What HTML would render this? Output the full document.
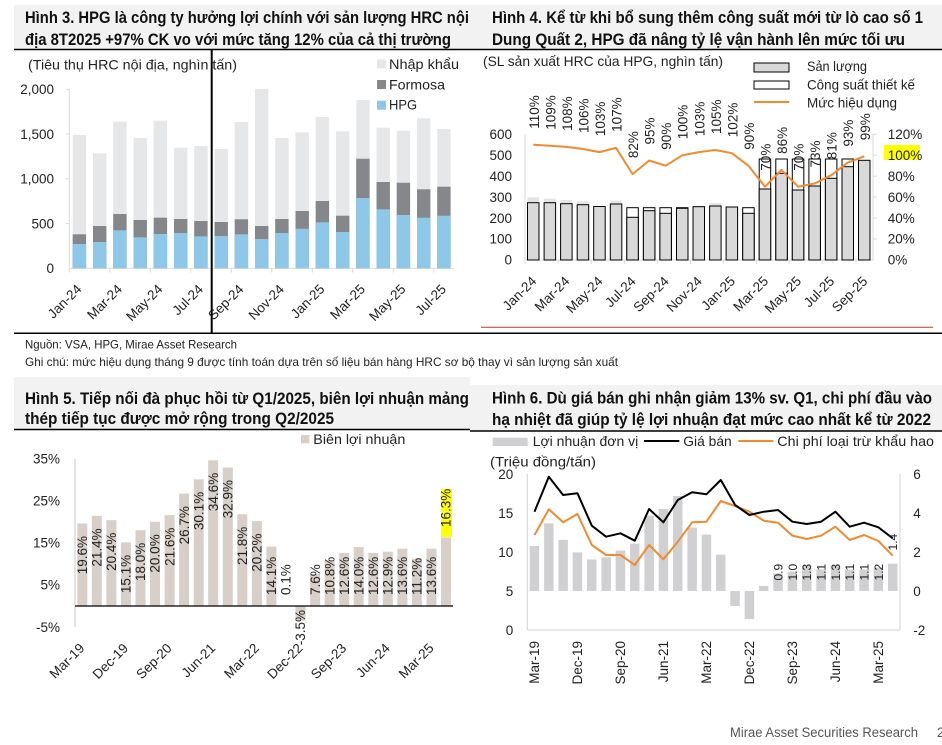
<!DOCTYPE html>
<html><head><meta charset="utf-8"><style>
html,body{margin:0;padding:0;background:#fff;}
svg{display:block;font-family:"Liberation Sans","DejaVu Sans",sans-serif;}
.t{font-weight:bold;font-size:16.5px;fill:#111;}
.a{font-size:13.5px;fill:#222;}
.l{font-size:14px;fill:#222;}
.s{font-size:12px;fill:#222;}
</style></head><body>
<svg width="942" height="745" viewBox="0 0 942 745" xmlns="http://www.w3.org/2000/svg">
<rect width="942" height="745" fill="#fff"/>
<rect x="14" y="5" width="456" height="44" fill="#f2f2f2"/>
<rect x="470" y="5" width="472" height="44" fill="#f2f2f2"/>
<rect x="14" y="377" width="456" height="52" fill="#f2f2f2"/>
<rect x="470" y="385" width="472" height="46" fill="#f2f2f2"/>
<line x1="14" y1="49.5" x2="942" y2="49.5" stroke="#000" stroke-width="1.5"/>
<line x1="14" y1="333.3" x2="942" y2="333.3" stroke="#000" stroke-width="1.5"/>
<line x1="481" y1="327.3" x2="933" y2="327.3" stroke="#c0392b" stroke-width="1"/>
<line x1="14" y1="429.5" x2="470" y2="429.5" stroke="#000" stroke-width="1.5"/>
<line x1="470" y1="431" x2="942" y2="431" stroke="#000" stroke-width="1.5"/>

<text class="t" x="25" y="23" textLength="444" lengthAdjust="spacingAndGlyphs">Hình 3. HPG là công ty hưởng lợi chính với sản lượng HRC nội</text>
<text class="t" x="25" y="45" textLength="426" lengthAdjust="spacingAndGlyphs">địa 8T2025 +97% CK vo với mức tăng 12% của cả thị trường</text>
<text class="t" x="492" y="23" textLength="431" lengthAdjust="spacingAndGlyphs">Hình 4. Kể từ khi bổ sung thêm công suất mới từ lò cao số 1</text>
<text class="t" x="492" y="45" textLength="413" lengthAdjust="spacingAndGlyphs">Dung Quất 2, HPG đã nâng tỷ lệ vận hành lên mức tối ưu</text>
<text class="t" x="25" y="404" textLength="444" lengthAdjust="spacingAndGlyphs">Hình 5. Tiếp nối đà phục hồi từ Q1/2025, biên lợi nhuận mảng</text>
<text class="t" x="25" y="424" textLength="309" lengthAdjust="spacingAndGlyphs">thép tiếp tục được mở rộng trong Q2/2025</text>
<text class="t" x="492" y="403.5" textLength="440" lengthAdjust="spacingAndGlyphs">Hình 6. Dù giá bán ghi nhận giảm 13% sv. Q1, chi phí đầu vào</text>
<text class="t" x="492" y="425" textLength="439" lengthAdjust="spacingAndGlyphs">hạ nhiệt đã giúp tỷ lệ lợi nhuận đạt mức cao nhất kể từ 2022</text>

<text class="s" x="25" y="348.3" textLength="212" lengthAdjust="spacingAndGlyphs">Nguồn: VSA, HPG, Mirae Asset Research</text>
<text class="s" x="25" y="366" textLength="593" lengthAdjust="spacingAndGlyphs">Ghi chú: mức hiệu dụng tháng 9 được tính toán dựa trên số liệu bán hàng HRC sơ bộ thay vì sản lượng sản xuất</text>
<text x="730" y="737" font-size="13.5" fill="#555" textLength="188" lengthAdjust="spacingAndGlyphs">Mirae Asset Securities Research</text>
<text x="937" y="737" font-size="13.5" fill="#555">2</text>

<!-- CHART 3 -->
<text class="l" x="28" y="69.5" textLength="209" lengthAdjust="spacingAndGlyphs">(Tiêu thụ HRC nội địa, nghìn tấn)</text>
<rect x="377" y="59.3" width="9" height="9" fill="#e6e7e9"/>
<rect x="377" y="80" width="9" height="9" fill="#85878a"/>
<rect x="377" y="100.7" width="9" height="9" fill="#8ec8e8"/>
<text class="l" x="389" y="69" textLength="70" lengthAdjust="spacingAndGlyphs">Nhập khẩu</text>
<text class="l" x="389" y="89.3" textLength="56" lengthAdjust="spacingAndGlyphs">Formosa</text>
<text class="l" x="389" y="109.7" textLength="28" lengthAdjust="spacingAndGlyphs">HPG</text>
<g class="a" text-anchor="end">
<text x="54" y="94">2,000</text><text x="54" y="138.8">1,500</text><text x="54" y="183.5">1,000</text><text x="54" y="228.3">500</text><text x="54" y="273">0</text>
</g>
<g stroke="#d9d9d9" stroke-width="1">
<line x1="69.3" y1="89" x2="69.3" y2="268.3"/>
<line x1="69.3" y1="268.3" x2="454" y2="268.3"/>
<line x1="66" y1="89.3" x2="69.3" y2="89.3"/><line x1="66" y1="134.1" x2="69.3" y2="134.1"/><line x1="66" y1="178.8" x2="69.3" y2="178.8"/><line x1="66" y1="223.6" x2="69.3" y2="223.6"/>
<line x1="69.3" y1="268.3" x2="69.3" y2="272.5"/><line x1="109.8" y1="268.3" x2="109.8" y2="272.5"/><line x1="150.3" y1="268.3" x2="150.3" y2="272.5"/><line x1="190.8" y1="268.3" x2="190.8" y2="272.5"/><line x1="231.3" y1="268.3" x2="231.3" y2="272.5"/><line x1="271.8" y1="268.3" x2="271.8" y2="272.5"/><line x1="312.3" y1="268.3" x2="312.3" y2="272.5"/><line x1="352.8" y1="268.3" x2="352.8" y2="272.5"/><line x1="393.3" y1="268.3" x2="393.3" y2="272.5"/><line x1="433.8" y1="268.3" x2="433.8" y2="272.5"/>
</g>
<g fill="#e6e7e9">
<rect x="72.7" y="135.0" width="13.4" height="133.3"/><rect x="93.0" y="153.3" width="13.4" height="115.0"/><rect x="113.2" y="121.7" width="13.4" height="146.6"/><rect x="133.5" y="138.0" width="13.4" height="130.3"/><rect x="153.7" y="120.7" width="13.4" height="147.6"/><rect x="174.0" y="147.7" width="13.4" height="120.6"/><rect x="194.2" y="146.0" width="13.4" height="122.3"/><rect x="214.5" y="149.0" width="13.4" height="119.3"/><rect x="234.7" y="122.0" width="13.4" height="146.3"/><rect x="255.0" y="89.0" width="13.4" height="179.3"/><rect x="275.2" y="138.0" width="13.4" height="130.3"/><rect x="295.5" y="132.3" width="13.4" height="136.0"/><rect x="315.7" y="117.0" width="13.4" height="151.3"/><rect x="336.0" y="131.3" width="13.4" height="137.0"/><rect x="356.2" y="100.0" width="13.4" height="168.3"/><rect x="376.5" y="127.7" width="13.4" height="140.6"/><rect x="396.7" y="130.7" width="13.4" height="137.6"/><rect x="417.0" y="118.3" width="13.4" height="150.0"/><rect x="437.2" y="129.0" width="13.4" height="139.3"/>
</g>
<g fill="#85878a">
<rect x="72.7" y="234.3" width="13.4" height="34.0"/><rect x="93.0" y="226.0" width="13.4" height="42.3"/><rect x="113.2" y="214.0" width="13.4" height="54.3"/><rect x="133.5" y="220.0" width="13.4" height="48.3"/><rect x="153.7" y="217.7" width="13.4" height="50.6"/><rect x="174.0" y="219.0" width="13.4" height="49.3"/><rect x="194.2" y="221.0" width="13.4" height="47.3"/><rect x="214.5" y="222.0" width="13.4" height="46.3"/><rect x="234.7" y="219.3" width="13.4" height="49.0"/><rect x="255.0" y="226.0" width="13.4" height="42.3"/><rect x="275.2" y="219.0" width="13.4" height="49.3"/><rect x="295.5" y="211.0" width="13.4" height="57.3"/><rect x="315.7" y="201.0" width="13.4" height="67.3"/><rect x="336.0" y="215.7" width="13.4" height="52.6"/><rect x="356.2" y="158.7" width="13.4" height="109.6"/><rect x="376.5" y="182.0" width="13.4" height="86.3"/><rect x="396.7" y="182.7" width="13.4" height="85.6"/><rect x="417.0" y="189.3" width="13.4" height="79.0"/><rect x="437.2" y="186.7" width="13.4" height="81.6"/>
</g>
<g fill="#8ec8e8">
<rect x="72.7" y="244.0" width="13.4" height="24.3"/><rect x="93.0" y="242.0" width="13.4" height="26.3"/><rect x="113.2" y="230.3" width="13.4" height="38.0"/><rect x="133.5" y="237.3" width="13.4" height="31.0"/><rect x="153.7" y="234.0" width="13.4" height="34.3"/><rect x="174.0" y="233.0" width="13.4" height="35.3"/><rect x="194.2" y="236.3" width="13.4" height="32.0"/><rect x="214.5" y="236.0" width="13.4" height="32.3"/><rect x="234.7" y="234.3" width="13.4" height="34.0"/><rect x="255.0" y="239.0" width="13.4" height="29.3"/><rect x="275.2" y="233.0" width="13.4" height="35.3"/><rect x="295.5" y="228.7" width="13.4" height="39.6"/><rect x="315.7" y="222.3" width="13.4" height="46.0"/><rect x="336.0" y="232.0" width="13.4" height="36.3"/><rect x="356.2" y="198.0" width="13.4" height="70.3"/><rect x="376.5" y="209.3" width="13.4" height="59.0"/><rect x="396.7" y="215.0" width="13.4" height="53.3"/><rect x="417.0" y="217.7" width="13.4" height="50.6"/><rect x="437.2" y="215.7" width="13.4" height="52.6"/>
</g>
<g class="a" text-anchor="end">
<text transform="translate(82.4,290) rotate(-45)">Jan-24</text>
<text transform="translate(122.9,290) rotate(-45)">Mar-24</text>
<text transform="translate(163.4,290) rotate(-45)">May-24</text>
<text transform="translate(203.9,290) rotate(-45)">Jul-24</text>
<text transform="translate(244.4,290) rotate(-45)">Sep-24</text>
<text transform="translate(284.9,290) rotate(-45)">Nov-24</text>
<text transform="translate(325.4,290) rotate(-45)">Jan-25</text>
<text transform="translate(365.9,290) rotate(-45)">Mar-25</text>
<text transform="translate(406.4,290) rotate(-45)">May-25</text>
<text transform="translate(446.9,290) rotate(-45)">Jul-25</text>
</g>
<line x1="211.7" y1="49" x2="211.7" y2="333" stroke="#000" stroke-width="2"/>

<!-- CHART 4 -->
<text class="l" x="483" y="66" textLength="240" lengthAdjust="spacingAndGlyphs">(SL sản xuất HRC của HPG, nghìn tấn)</text>
<rect x="754" y="63" width="35" height="9" fill="#d9d9d9" stroke="#000" stroke-width="1"/>
<rect x="754" y="81" width="35" height="8" fill="#fff" stroke="#000" stroke-width="1"/>
<line x1="754" y1="102" x2="789" y2="102" stroke="#f28a2e" stroke-width="2"/>
<text class="l" x="807" y="71" textLength="60" lengthAdjust="spacingAndGlyphs">Sản lượng</text>
<text class="l" x="807" y="89.5" textLength="108" lengthAdjust="spacingAndGlyphs">Công suất thiết kế</text>
<text class="l" x="807" y="107.3" textLength="90" lengthAdjust="spacingAndGlyphs">Mức hiệu dụng</text>
<g class="a" text-anchor="end">
<text x="512" y="139">600</text><text x="512" y="160">500</text><text x="512" y="180.9">400</text><text x="512" y="201.8">300</text><text x="512" y="222.8">200</text><text x="512" y="243.7">100</text><text x="512" y="264.7">0</text>
</g>
<rect x="884" y="145" width="36" height="15" fill="#ffff00"/>
<g class="a">
<text x="887.7" y="139">120%</text><text x="887.7" y="160">100%</text><text x="887.7" y="180.9">80%</text><text x="887.7" y="201.8">60%</text><text x="887.7" y="222.8">40%</text><text x="887.7" y="243.7">20%</text><text x="887.7" y="264.7">0%</text>
</g>
<g stroke="#d9d9d9" stroke-width="1">
<line x1="525" y1="134" x2="525" y2="260"/>
<line x1="873" y1="134" x2="873" y2="260"/>
<line x1="525" y1="260" x2="873" y2="260"/>
<line x1="873" y1="134.3" x2="877" y2="134.3"/><line x1="873" y1="155.25" x2="877" y2="155.25"/><line x1="873" y1="176.2" x2="877" y2="176.2"/><line x1="873" y1="197.1" x2="877" y2="197.1"/><line x1="873" y1="218.1" x2="877" y2="218.1"/><line x1="873" y1="239" x2="877" y2="239"/>
<line x1="525" y1="260" x2="525" y2="264"/><line x1="558.1" y1="260" x2="558.1" y2="264"/><line x1="591.2" y1="260" x2="591.2" y2="264"/><line x1="624.3" y1="260" x2="624.3" y2="264"/><line x1="657.4" y1="260" x2="657.4" y2="264"/><line x1="690.5" y1="260" x2="690.5" y2="264"/><line x1="723.6" y1="260" x2="723.6" y2="264"/><line x1="756.7" y1="260" x2="756.7" y2="264"/><line x1="789.8" y1="260" x2="789.8" y2="264"/><line x1="822.9" y1="260" x2="822.9" y2="264"/><line x1="856" y1="260" x2="856" y2="264"/>
</g>
<g fill="#e4e4e4">
<rect x="527.5" y="197.3" width="11.5" height="5.4"/><rect x="544.1" y="198.7" width="11.5" height="4"/><rect x="560.6" y="200" width="11.5" height="3.7"/><rect x="577.2" y="201.3" width="11.5" height="3.4"/><rect x="610.3" y="200.7" width="11.5" height="3.3"/><rect x="693.0" y="205.7" width="11.5" height="1"/><rect x="709.6" y="203.3" width="11.5" height="2.7"/>
</g>
<g fill="#fff" stroke="#000" stroke-width="1">
<rect x="626.8" y="207.7" width="11.5" height="52.3"/><rect x="643.4" y="207.7" width="11.5" height="52.3"/><rect x="659.9" y="207.7" width="11.5" height="52.3"/><rect x="676.5" y="207.7" width="11.5" height="52.3"/><rect x="742.7" y="207.7" width="11.5" height="52.3"/>
<rect x="759.2" y="159" width="11.5" height="101"/><rect x="775.8" y="159" width="11.5" height="101"/><rect x="792.3" y="159" width="11.5" height="101"/><rect x="808.9" y="159" width="11.5" height="101"/><rect x="825.4" y="159" width="11.5" height="101"/><rect x="842.0" y="159" width="11.5" height="101"/>
</g>
<g fill="#d9d9d9" stroke="#000" stroke-width="1">
<rect x="527.5" y="202.7" width="11.5" height="57.3"/><rect x="544.1" y="202.7" width="11.5" height="57.3"/><rect x="560.6" y="203.7" width="11.5" height="56.3"/><rect x="577.2" y="204.7" width="11.5" height="55.3"/><rect x="593.7" y="206.5" width="11.5" height="53.5"/><rect x="610.3" y="204" width="11.5" height="56"/>
<rect x="626.8" y="217.3" width="11.5" height="42.7"/><rect x="643.4" y="210.7" width="11.5" height="49.3"/><rect x="659.9" y="213.3" width="11.5" height="46.7"/><rect x="676.5" y="208.3" width="11.5" height="51.7"/><rect x="693.0" y="206.7" width="11.5" height="53.3"/><rect x="709.6" y="206" width="11.5" height="54"/><rect x="726.1" y="207" width="11.5" height="53"/><rect x="742.7" y="213.3" width="11.5" height="46.7"/>
<rect x="759.2" y="189" width="11.5" height="71"/><rect x="775.8" y="173.3" width="11.5" height="86.7"/><rect x="792.3" y="190" width="11.5" height="70"/><rect x="808.9" y="186" width="11.5" height="74"/><rect x="825.4" y="178.3" width="11.5" height="81.7"/><rect x="842.0" y="166.7" width="11.5" height="93.3"/><rect x="858.5" y="160.3" width="11.5" height="99.7"/>
</g>
<polyline fill="none" stroke="#f28a2e" stroke-width="2" stroke-linejoin="round" points="533.3,144.8 549.8,145.8 566.4,146.9 582.9,149.0 599.5,152.1 616.0,147.9 632.6,174.1 649.1,160.5 665.7,165.7 682.2,155.3 698.8,152.1 715.3,150.0 731.9,153.2 748.4,165.7 765.0,186.7 781.5,169.9 798.1,186.7 814.6,183.5 831.2,175.2 847.7,162.6 864.3,156.3"/>
<g class="a">
<text transform="translate(538.8,128.8) rotate(-90)">110%</text>
<text transform="translate(555.3,129.8) rotate(-90)">109%</text>
<text transform="translate(571.9,130.9) rotate(-90)">108%</text>
<text transform="translate(588.4,133.0) rotate(-90)">106%</text>
<text transform="translate(605.0,136.1) rotate(-90)">103%</text>
<text transform="translate(621.5,131.9) rotate(-90)">107%</text>
<text transform="translate(638.1,158.1) rotate(-90)">82%</text>
<text transform="translate(654.6,144.5) rotate(-90)">95%</text>
<text transform="translate(671.2,149.7) rotate(-90)">90%</text>
<text transform="translate(687.7,139.3) rotate(-90)">100%</text>
<text transform="translate(704.3,136.1) rotate(-90)">103%</text>
<text transform="translate(720.8,134.0) rotate(-90)">105%</text>
<text transform="translate(737.4,137.2) rotate(-90)">102%</text>
<text transform="translate(753.9,149.7) rotate(-90)">90%</text>
<text transform="translate(770.5,170.7) rotate(-90)">70%</text>
<text transform="translate(787.0,153.9) rotate(-90)">86%</text>
<text transform="translate(803.6,170.7) rotate(-90)">70%</text>
<text transform="translate(820.1,167.5) rotate(-90)">73%</text>
<text transform="translate(836.7,159.2) rotate(-90)">81%</text>
<text transform="translate(853.2,146.6) rotate(-90)">93%</text>
<text transform="translate(869.8,140.3) rotate(-90)">99%</text>
</g>
<g class="a" text-anchor="end">
<text transform="translate(537.3,282) rotate(-45)">Jan-24</text>
<text transform="translate(570.4,282) rotate(-45)">Mar-24</text>
<text transform="translate(603.5,282) rotate(-45)">May-24</text>
<text transform="translate(636.6,282) rotate(-45)">Jul-24</text>
<text transform="translate(669.7,282) rotate(-45)">Sep-24</text>
<text transform="translate(702.8,282) rotate(-45)">Nov-24</text>
<text transform="translate(735.9,282) rotate(-45)">Jan-25</text>
<text transform="translate(769.0,282) rotate(-45)">Mar-25</text>
<text transform="translate(802.1,282) rotate(-45)">May-25</text>
<text transform="translate(835.2,282) rotate(-45)">Jul-25</text>
<text transform="translate(868.3,282) rotate(-45)">Sep-25</text>
</g>

<!-- CHART 5 -->
<rect x="301" y="435" width="8.3" height="8.3" fill="#d8cfc8"/>
<text class="l" x="313.3" y="444" textLength="92" lengthAdjust="spacingAndGlyphs">Biên lợi nhuận</text>
<g class="a" text-anchor="end">
<text x="60" y="463.3">35%</text><text x="60" y="505.4">25%</text><text x="60" y="547.5">15%</text><text x="60" y="589.7">5%</text><text x="60" y="631.8">-5%</text>
</g>
<line x1="75" y1="459" x2="75" y2="627" stroke="#dcdcdc" stroke-width="1.5"/>
<g fill="#d8cfc8">
<rect x="77.3" y="523.5" width="10" height="82.5"/><rect x="91.8" y="515.9" width="10" height="90.1"/><rect x="106.4" y="520.1" width="10" height="85.9"/><rect x="120.9" y="542.4" width="10" height="63.6"/><rect x="135.5" y="530.2" width="10" height="75.8"/><rect x="150.0" y="521.8" width="10" height="84.2"/><rect x="164.6" y="515.1" width="10" height="90.9"/><rect x="179.1" y="493.6" width="10" height="112.4"/><rect x="193.7" y="479.3" width="10" height="126.7"/><rect x="208.2" y="460.3" width="10" height="145.7"/><rect x="222.8" y="467.5" width="10" height="138.5"/><rect x="237.3" y="514.2" width="10" height="91.8"/><rect x="251.9" y="521.0" width="10" height="85.0"/><rect x="266.4" y="546.6" width="10" height="59.4"/><rect x="281.0" y="605.6" width="10" height="0.4"/><rect x="295.5" y="606" width="10" height="14.7"/><rect x="310.1" y="574.0" width="10" height="32.0"/><rect x="324.6" y="560.5" width="10" height="45.5"/><rect x="339.2" y="553.0" width="10" height="53.0"/><rect x="353.7" y="547.1" width="10" height="58.9"/><rect x="368.3" y="553.0" width="10" height="53.0"/><rect x="382.8" y="551.7" width="10" height="54.3"/><rect x="397.4" y="548.7" width="10" height="57.3"/><rect x="411.9" y="558.8" width="10" height="47.2"/><rect x="426.5" y="548.7" width="10" height="57.3"/><rect x="441.0" y="537.4" width="10" height="68.6"/>
</g>
<line x1="75" y1="606" x2="453" y2="606" stroke="#000" stroke-width="1.2"/>
<rect x="441" y="489" width="11" height="48" fill="#ffff00"/>
<g class="a" text-anchor="end">
<text transform="translate(87.0,536.0) rotate(-90)">19.6%</text>
<text transform="translate(101.5,528.4) rotate(-90)">21.4%</text>
<text transform="translate(116.1,532.6) rotate(-90)">20.4%</text>
<text transform="translate(130.6,554.9) rotate(-90)">15.1%</text>
<text transform="translate(145.2,542.7) rotate(-90)">18.0%</text>
<text transform="translate(159.7,534.3) rotate(-90)">20.0%</text>
<text transform="translate(174.3,527.6) rotate(-90)">21.6%</text>
<text transform="translate(188.8,506.1) rotate(-90)">26.7%</text>
<text transform="translate(203.4,491.8) rotate(-90)">30.1%</text>
<text transform="translate(217.9,472.8) rotate(-90)">34.6%</text>
<text transform="translate(232.5,480.0) rotate(-90)">32.9%</text>
<text transform="translate(247.0,526.7) rotate(-90)">21.8%</text>
<text transform="translate(261.6,533.5) rotate(-90)">20.2%</text>
<text transform="translate(305.2,610) rotate(-90)">-3.5%</text>
</g>
<g class="a">
<text transform="translate(276.1,595) rotate(-90)">14.1%</text>
<text transform="translate(290.7,595) rotate(-90)">0.1%</text>
<text transform="translate(319.8,595) rotate(-90)">7.6%</text>
<text transform="translate(334.3,595) rotate(-90)">10.8%</text>
<text transform="translate(348.9,595) rotate(-90)">12.6%</text>
<text transform="translate(363.4,595) rotate(-90)">14.0%</text>
<text transform="translate(378.0,595) rotate(-90)">12.6%</text>
<text transform="translate(392.5,595) rotate(-90)">12.9%</text>
<text transform="translate(407.1,595) rotate(-90)">13.6%</text>
<text transform="translate(421.6,595) rotate(-90)">11.2%</text>
<text transform="translate(436.2,595) rotate(-90)">13.6%</text>
<text transform="translate(450.7,527) rotate(-90)">16.3%</text>
</g>
<g class="a" text-anchor="end">
<text transform="translate(85.3,649) rotate(-45)">Mar-19</text>
<text transform="translate(128.9,649) rotate(-45)">Dec-19</text>
<text transform="translate(172.6,649) rotate(-45)">Sep-20</text>
<text transform="translate(216.2,649) rotate(-45)">Jun-21</text>
<text transform="translate(259.9,649) rotate(-45)">Mar-22</text>
<text transform="translate(303.5,649) rotate(-45)">Dec-22</text>
<text transform="translate(347.2,649) rotate(-45)">Sep-23</text>
<text transform="translate(390.8,649) rotate(-45)">Jun-24</text>
<text transform="translate(434.5,649) rotate(-45)">Mar-25</text>
</g>

<!-- CHART 6 -->
<rect x="492.7" y="437.7" width="35" height="8.3" fill="#d0d0d2"/>
<text class="l" x="532.7" y="446" textLength="105.6" lengthAdjust="spacingAndGlyphs">Lợi nhuận đơn vị</text>
<line x1="644" y1="441" x2="679.3" y2="441" stroke="#000" stroke-width="2"/>
<text class="l" x="683.3" y="446" textLength="48.4" lengthAdjust="spacingAndGlyphs">Giá bán</text>
<line x1="738.3" y1="441" x2="773.3" y2="441" stroke="#f28a2e" stroke-width="2"/>
<text class="l" x="777.3" y="446" textLength="156.7" lengthAdjust="spacingAndGlyphs">Chi phí loại trừ khẩu hao</text>
<text class="l" x="490" y="466.7" textLength="106" lengthAdjust="spacingAndGlyphs">(Triệu đồng/tấn)</text>
<g class="a" text-anchor="end">
<text x="513.3" y="479">20</text><text x="513.3" y="518">15</text><text x="513.3" y="557">10</text><text x="513.3" y="596">5</text><text x="513.3" y="635">0</text>
</g>
<g class="a">
<text x="913.3" y="479">6</text><text x="913.3" y="518">4</text><text x="913.3" y="557">2</text><text x="913.3" y="596">0</text><text x="913.3" y="635">-2</text>
</g>
<g stroke="#d9d9d9" stroke-width="1.2">
<line x1="527.3" y1="474" x2="527.3" y2="630"/>
<line x1="900" y1="474" x2="900" y2="630"/>
<line x1="527.3" y1="630" x2="900" y2="630"/>
</g>
<g fill="#d0d0d2">
<rect x="529.7" y="546.0" width="9.5" height="45.0"/><rect x="544.1" y="523.3" width="9.5" height="67.7"/><rect x="558.4" y="539.9" width="9.5" height="51.1"/><rect x="572.7" y="552.4" width="9.5" height="38.6"/><rect x="587.0" y="559.4" width="9.5" height="31.6"/><rect x="601.4" y="557.3" width="9.5" height="33.7"/><rect x="615.7" y="550.6" width="9.5" height="40.4"/><rect x="630.0" y="543.6" width="9.5" height="47.4"/><rect x="644.4" y="515.7" width="9.5" height="75.3"/><rect x="658.7" y="508.9" width="9.5" height="82.1"/><rect x="673.0" y="496.0" width="9.5" height="95.0"/><rect x="687.4" y="527.6" width="9.5" height="63.4"/><rect x="701.7" y="534.6" width="9.5" height="56.4"/><rect x="716.0" y="554.7" width="9.5" height="36.3"/><rect x="730.3" y="591" width="9.5" height="15.0"/><rect x="744.7" y="591" width="9.5" height="28.1"/><rect x="759.0" y="585.9" width="9.5" height="5.1"/><rect x="773.3" y="573.4" width="9.5" height="17.6"/><rect x="787.7" y="571.5" width="9.5" height="19.5"/><rect x="802.0" y="565.6" width="9.5" height="25.4"/><rect x="816.3" y="569.5" width="9.5" height="21.5"/><rect x="830.7" y="565.6" width="9.5" height="25.4"/><rect x="845.0" y="569.5" width="9.5" height="21.5"/><rect x="859.3" y="569.5" width="9.5" height="21.5"/><rect x="873.6" y="567.6" width="9.5" height="23.4"/><rect x="888.0" y="563.7" width="9.5" height="27.3"/>
</g>
<polyline fill="none" stroke="#f28a2e" stroke-width="2" stroke-linejoin="round" points="534.5,535 548.8,509.3 563.1,522.3 577.5,514 591.8,545 606.1,555 620.5,555 634.8,565 649.1,545 663.4,559.3 677.8,541.7 692.1,522.3 706.4,521.7 720.8,501 735.1,506 749.4,511.7 763.8,520.7 778.1,522.7 792.4,535.7 806.7,539 821.1,535.7 835.4,526.7 849.7,540 864.1,535 878.4,541 892.7,555.7"/>
<polyline fill="none" stroke="#000" stroke-width="2" stroke-linejoin="round" points="534.5,511.7 548.8,476.7 563.1,495 577.5,493.3 591.8,525.7 606.1,536.7 620.5,533.3 634.8,540.7 649.1,509 663.4,522.3 677.8,500 692.1,492.3 706.4,494.3 720.8,480 735.1,505 749.4,515 763.8,511.7 778.1,510 792.4,521.7 806.7,524 821.1,521.7 835.4,511.7 849.7,526.7 864.1,522.7 878.4,527.3 892.7,538.3"/>
<g class="s">
<text transform="translate(782.5,580.5) rotate(-90)">0.9</text>
<text transform="translate(796.8,580.5) rotate(-90)">1.0</text>
<text transform="translate(811.2,580.5) rotate(-90)">1.3</text>
<text transform="translate(825.5,580.5) rotate(-90)">1.1</text>
<text transform="translate(839.8,580.5) rotate(-90)">1.3</text>
<text transform="translate(854.2,580.5) rotate(-90)">1.1</text>
<text transform="translate(868.5,580.5) rotate(-90)">1.1</text>
<text transform="translate(882.8,580.5) rotate(-90)">1.2</text>
<text transform="translate(897.2,550.5) rotate(-90)">1.4</text>
</g>
<g class="a" text-anchor="end">
<text transform="translate(539.2,641) rotate(-90)">Mar-19</text>
<text transform="translate(582.2,641) rotate(-90)">Dec-19</text>
<text transform="translate(625.2,641) rotate(-90)">Sep-20</text>
<text transform="translate(668.1,641) rotate(-90)">Jun-21</text>
<text transform="translate(711.1,641) rotate(-90)">Mar-22</text>
<text transform="translate(754.1,641) rotate(-90)">Dec-22</text>
<text transform="translate(797.1,641) rotate(-90)">Sep-23</text>
<text transform="translate(840.1,641) rotate(-90)">Jun-24</text>
<text transform="translate(883.1,641) rotate(-90)">Mar-25</text>
</g>
</svg>
</body></html>
